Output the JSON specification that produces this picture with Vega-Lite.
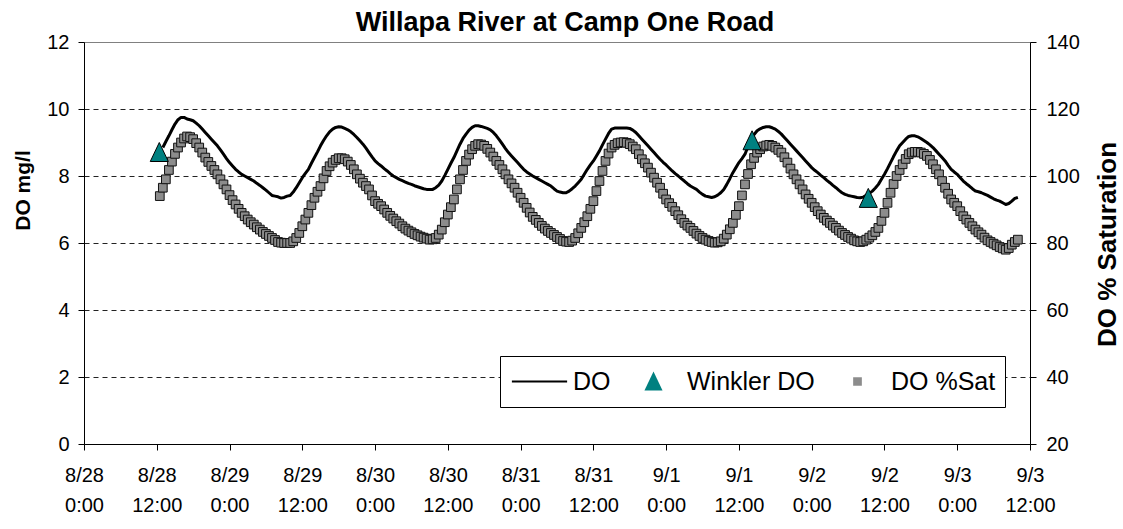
{
  "$schema": "https://vega.github.io/schema/vega-lite/v6.json",
  "width": 946,
  "height": 402,
  "autosize": {"type": "none"},
  "padding": {"left": 84, "top": 42, "right": 93, "bottom": 85},
  "background": "white",
  "title": {"text": "Willapa River at Camp One Road", "font": "Liberation Sans", "fontSize": 27, "fontWeight": "bold", "color": "black", "anchor": "middle", "dx": 8, "dy": 26, "offset": 0, "baseline": "alphabetic"},
  "datasets": {
    "series": [
      {"t": "2007-08-28T12:30", "sat": 94},
      {"t": "2007-08-28T13:00", "oxy": 8.85, "sat": 96.5},
      {"t": "2007-08-28T13:30", "oxy": 9.03, "sat": 99},
      {"t": "2007-08-28T14:00", "oxy": 9.2, "sat": 101.8},
      {"t": "2007-08-28T14:30", "oxy": 9.38, "sat": 104.3},
      {"t": "2007-08-28T15:00", "oxy": 9.55, "sat": 106.6},
      {"t": "2007-08-28T15:30", "oxy": 9.68, "sat": 108.5},
      {"t": "2007-08-28T16:00", "oxy": 9.75, "sat": 110},
      {"t": "2007-08-28T16:30", "oxy": 9.75, "sat": 111.2},
      {"t": "2007-08-28T17:00", "oxy": 9.7, "sat": 111.8},
      {"t": "2007-08-28T17:30", "oxy": 9.68, "sat": 111.6},
      {"t": "2007-08-28T18:00", "oxy": 9.65, "sat": 111},
      {"t": "2007-08-28T18:30", "oxy": 9.58, "sat": 109.8},
      {"t": "2007-08-28T19:00", "oxy": 9.5, "sat": 108.5},
      {"t": "2007-08-28T19:30", "oxy": 9.4, "sat": 107},
      {"t": "2007-08-28T20:00", "oxy": 9.3, "sat": 105.5},
      {"t": "2007-08-28T20:30", "oxy": 9.2, "sat": 104.2},
      {"t": "2007-08-28T21:00", "oxy": 9.1, "sat": 103},
      {"t": "2007-08-28T21:30", "oxy": 9.0, "sat": 101.8},
      {"t": "2007-08-28T22:00", "oxy": 8.9, "sat": 100.5},
      {"t": "2007-08-28T22:30", "oxy": 8.78, "sat": 99},
      {"t": "2007-08-28T23:00", "oxy": 8.65, "sat": 97.5},
      {"t": "2007-08-28T23:30", "oxy": 8.52, "sat": 96},
      {"t": "2007-08-29T00:00", "oxy": 8.4, "sat": 94.3},
      {"t": "2007-08-29T00:30", "oxy": 8.3, "sat": 92.8},
      {"t": "2007-08-29T01:00", "oxy": 8.2, "sat": 91.5},
      {"t": "2007-08-29T01:30", "oxy": 8.12, "sat": 90.2},
      {"t": "2007-08-29T02:00", "oxy": 8.05, "sat": 89},
      {"t": "2007-08-29T02:30", "oxy": 8.0, "sat": 88},
      {"t": "2007-08-29T03:00", "oxy": 7.95, "sat": 87},
      {"t": "2007-08-29T03:30", "oxy": 7.9, "sat": 86.2},
      {"t": "2007-08-29T04:00", "oxy": 7.85, "sat": 85.5},
      {"t": "2007-08-29T04:30", "oxy": 7.78, "sat": 84.7},
      {"t": "2007-08-29T05:00", "oxy": 7.72, "sat": 84},
      {"t": "2007-08-29T05:30", "oxy": 7.65, "sat": 83.3},
      {"t": "2007-08-29T06:00", "oxy": 7.58, "sat": 82.7},
      {"t": "2007-08-29T06:30", "oxy": 7.5, "sat": 82.1},
      {"t": "2007-08-29T07:00", "oxy": 7.42, "sat": 81.5},
      {"t": "2007-08-29T07:30", "oxy": 7.4, "sat": 80.9},
      {"t": "2007-08-29T08:00", "oxy": 7.38, "sat": 80.3},
      {"t": "2007-08-29T08:30", "oxy": 7.34, "sat": 80.1},
      {"t": "2007-08-29T09:00", "oxy": 7.36, "sat": 80},
      {"t": "2007-08-29T09:30", "oxy": 7.4, "sat": 80},
      {"t": "2007-08-29T10:00", "oxy": 7.42, "sat": 80},
      {"t": "2007-08-29T10:30", "oxy": 7.52, "sat": 80.5},
      {"t": "2007-08-29T11:00", "oxy": 7.65, "sat": 81.5},
      {"t": "2007-08-29T11:30", "oxy": 7.8, "sat": 83},
      {"t": "2007-08-29T12:00", "oxy": 7.95, "sat": 85},
      {"t": "2007-08-29T12:30", "oxy": 8.08, "sat": 87},
      {"t": "2007-08-29T13:00", "oxy": 8.2, "sat": 89},
      {"t": "2007-08-29T13:30", "oxy": 8.38, "sat": 91.3},
      {"t": "2007-08-29T14:00", "oxy": 8.55, "sat": 93.5},
      {"t": "2007-08-29T14:30", "oxy": 8.72, "sat": 95.3},
      {"t": "2007-08-29T15:00", "oxy": 8.9, "sat": 97},
      {"t": "2007-08-29T15:30", "oxy": 9.06, "sat": 99.3},
      {"t": "2007-08-29T16:00", "oxy": 9.2, "sat": 101.5},
      {"t": "2007-08-29T16:30", "oxy": 9.32, "sat": 102.9},
      {"t": "2007-08-29T17:00", "oxy": 9.4, "sat": 104},
      {"t": "2007-08-29T17:30", "oxy": 9.45, "sat": 104.8},
      {"t": "2007-08-29T18:00", "oxy": 9.47, "sat": 105.3},
      {"t": "2007-08-29T18:30", "oxy": 9.46, "sat": 105.3},
      {"t": "2007-08-29T19:00", "oxy": 9.42, "sat": 105},
      {"t": "2007-08-29T19:30", "oxy": 9.38, "sat": 104.3},
      {"t": "2007-08-29T20:00", "oxy": 9.32, "sat": 103.3},
      {"t": "2007-08-29T20:30", "oxy": 9.24, "sat": 102},
      {"t": "2007-08-29T21:00", "oxy": 9.15, "sat": 100.5},
      {"t": "2007-08-29T21:30", "oxy": 9.05, "sat": 99.2},
      {"t": "2007-08-29T22:00", "oxy": 8.95, "sat": 98},
      {"t": "2007-08-29T22:30", "oxy": 8.83, "sat": 97},
      {"t": "2007-08-29T23:00", "oxy": 8.7, "sat": 96},
      {"t": "2007-08-29T23:30", "oxy": 8.57, "sat": 94.2},
      {"t": "2007-08-30T00:00", "oxy": 8.45, "sat": 92.5},
      {"t": "2007-08-30T00:30", "oxy": 8.37, "sat": 91.7},
      {"t": "2007-08-30T01:00", "oxy": 8.3, "sat": 91},
      {"t": "2007-08-30T01:30", "oxy": 8.22, "sat": 90},
      {"t": "2007-08-30T02:00", "oxy": 8.15, "sat": 89},
      {"t": "2007-08-30T02:30", "oxy": 8.07, "sat": 88.1},
      {"t": "2007-08-30T03:00", "oxy": 8.0, "sat": 87.3},
      {"t": "2007-08-30T03:30", "oxy": 7.95, "sat": 86.5},
      {"t": "2007-08-30T04:00", "oxy": 7.9, "sat": 85.8},
      {"t": "2007-08-30T04:30", "oxy": 7.86, "sat": 85},
      {"t": "2007-08-30T05:00", "oxy": 7.82, "sat": 84.3},
      {"t": "2007-08-30T05:30", "oxy": 7.78, "sat": 83.7},
      {"t": "2007-08-30T06:00", "oxy": 7.75, "sat": 83.2},
      {"t": "2007-08-30T06:30", "oxy": 7.71, "sat": 82.7},
      {"t": "2007-08-30T07:00", "oxy": 7.68, "sat": 82.3},
      {"t": "2007-08-30T07:30", "oxy": 7.65, "sat": 81.9},
      {"t": "2007-08-30T08:00", "oxy": 7.62, "sat": 81.6},
      {"t": "2007-08-30T08:30", "oxy": 7.6, "sat": 81.3},
      {"t": "2007-08-30T09:00", "oxy": 7.6, "sat": 81},
      {"t": "2007-08-30T09:30", "oxy": 7.6, "sat": 81.1},
      {"t": "2007-08-30T10:00", "oxy": 7.65, "sat": 81.5},
      {"t": "2007-08-30T10:30", "oxy": 7.73, "sat": 82.5},
      {"t": "2007-08-30T11:00", "oxy": 7.85, "sat": 84},
      {"t": "2007-08-30T11:30", "oxy": 8.02, "sat": 86.2},
      {"t": "2007-08-30T12:00", "oxy": 8.2, "sat": 88.5},
      {"t": "2007-08-30T12:30", "oxy": 8.38, "sat": 90.7},
      {"t": "2007-08-30T13:00", "oxy": 8.55, "sat": 93},
      {"t": "2007-08-30T13:30", "oxy": 8.75, "sat": 96},
      {"t": "2007-08-30T14:00", "oxy": 8.95, "sat": 99},
      {"t": "2007-08-30T14:30", "oxy": 9.12, "sat": 101.8},
      {"t": "2007-08-30T15:00", "oxy": 9.25, "sat": 104.5},
      {"t": "2007-08-30T15:30", "oxy": 9.37, "sat": 106.4},
      {"t": "2007-08-30T16:00", "oxy": 9.45, "sat": 108},
      {"t": "2007-08-30T16:30", "oxy": 9.5, "sat": 109},
      {"t": "2007-08-30T17:00", "oxy": 9.5, "sat": 109.5},
      {"t": "2007-08-30T17:30", "oxy": 9.48, "sat": 109.4},
      {"t": "2007-08-30T18:00", "oxy": 9.45, "sat": 109},
      {"t": "2007-08-30T18:30", "oxy": 9.42, "sat": 108.1},
      {"t": "2007-08-30T19:00", "oxy": 9.38, "sat": 107},
      {"t": "2007-08-30T19:30", "oxy": 9.3, "sat": 105.8},
      {"t": "2007-08-30T20:00", "oxy": 9.2, "sat": 104.5},
      {"t": "2007-08-30T20:30", "oxy": 9.08, "sat": 103.3},
      {"t": "2007-08-30T21:00", "oxy": 8.95, "sat": 102},
      {"t": "2007-08-30T21:30", "oxy": 8.82, "sat": 100.5},
      {"t": "2007-08-30T22:00", "oxy": 8.7, "sat": 99},
      {"t": "2007-08-30T22:30", "oxy": 8.6, "sat": 97.8},
      {"t": "2007-08-30T23:00", "oxy": 8.5, "sat": 96.5},
      {"t": "2007-08-30T23:30", "oxy": 8.4, "sat": 95},
      {"t": "2007-08-31T00:00", "oxy": 8.3, "sat": 93.5},
      {"t": "2007-08-31T00:30", "oxy": 8.2, "sat": 92},
      {"t": "2007-08-31T01:00", "oxy": 8.12, "sat": 90.5},
      {"t": "2007-08-31T01:30", "oxy": 8.06, "sat": 89.1},
      {"t": "2007-08-31T02:00", "oxy": 8.0, "sat": 87.8},
      {"t": "2007-08-31T02:30", "oxy": 7.95, "sat": 86.9},
      {"t": "2007-08-31T03:00", "oxy": 7.9, "sat": 86},
      {"t": "2007-08-31T03:30", "oxy": 7.85, "sat": 85.1},
      {"t": "2007-08-31T04:00", "oxy": 7.8, "sat": 84.3},
      {"t": "2007-08-31T04:30", "oxy": 7.75, "sat": 83.6},
      {"t": "2007-08-31T05:00", "oxy": 7.7, "sat": 83},
      {"t": "2007-08-31T05:30", "oxy": 7.62, "sat": 82.4},
      {"t": "2007-08-31T06:00", "oxy": 7.55, "sat": 81.8},
      {"t": "2007-08-31T06:30", "oxy": 7.52, "sat": 81.2},
      {"t": "2007-08-31T07:00", "oxy": 7.5, "sat": 80.6},
      {"t": "2007-08-31T07:30", "oxy": 7.5, "sat": 80.4},
      {"t": "2007-08-31T08:00", "oxy": 7.55, "sat": 80.3},
      {"t": "2007-08-31T08:30", "oxy": 7.62, "sat": 80.7},
      {"t": "2007-08-31T09:00", "oxy": 7.7, "sat": 81.5},
      {"t": "2007-08-31T09:30", "oxy": 7.8, "sat": 82.9},
      {"t": "2007-08-31T10:00", "oxy": 7.9, "sat": 84.5},
      {"t": "2007-08-31T10:30", "oxy": 8.05, "sat": 86.2},
      {"t": "2007-08-31T11:00", "oxy": 8.2, "sat": 88},
      {"t": "2007-08-31T11:30", "oxy": 8.33, "sat": 90.2},
      {"t": "2007-08-31T12:00", "oxy": 8.45, "sat": 92.5},
      {"t": "2007-08-31T12:30", "oxy": 8.6, "sat": 95.5},
      {"t": "2007-08-31T13:00", "oxy": 8.75, "sat": 98.5},
      {"t": "2007-08-31T13:30", "oxy": 8.93, "sat": 101.5},
      {"t": "2007-08-31T14:00", "oxy": 9.1, "sat": 104.5},
      {"t": "2007-08-31T14:30", "oxy": 9.27, "sat": 106.7},
      {"t": "2007-08-31T15:00", "oxy": 9.4, "sat": 108.5},
      {"t": "2007-08-31T15:30", "oxy": 9.43, "sat": 109.3},
      {"t": "2007-08-31T16:00", "oxy": 9.43, "sat": 109.8},
      {"t": "2007-08-31T16:30", "oxy": 9.43, "sat": 110},
      {"t": "2007-08-31T17:00", "oxy": 9.43, "sat": 110.1},
      {"t": "2007-08-31T17:30", "oxy": 9.43, "sat": 109.9},
      {"t": "2007-08-31T18:00", "oxy": 9.42, "sat": 109.5},
      {"t": "2007-08-31T18:30", "oxy": 9.37, "sat": 108.8},
      {"t": "2007-08-31T19:00", "oxy": 9.3, "sat": 108},
      {"t": "2007-08-31T19:30", "oxy": 9.2, "sat": 106.5},
      {"t": "2007-08-31T20:00", "oxy": 9.1, "sat": 105},
      {"t": "2007-08-31T20:30", "oxy": 9.0, "sat": 103.8},
      {"t": "2007-08-31T21:00", "oxy": 8.9, "sat": 102.5},
      {"t": "2007-08-31T21:30", "oxy": 8.8, "sat": 101},
      {"t": "2007-08-31T22:00", "oxy": 8.7, "sat": 99.5},
      {"t": "2007-08-31T22:30", "oxy": 8.6, "sat": 98},
      {"t": "2007-08-31T23:00", "oxy": 8.5, "sat": 96.5},
      {"t": "2007-08-31T23:30", "oxy": 8.41, "sat": 94.7},
      {"t": "2007-09-01T00:00", "oxy": 8.33, "sat": 93},
      {"t": "2007-09-01T00:30", "oxy": 8.24, "sat": 91.9},
      {"t": "2007-09-01T01:00", "oxy": 8.15, "sat": 90.8},
      {"t": "2007-09-01T01:30", "oxy": 8.07, "sat": 89.5},
      {"t": "2007-09-01T02:00", "oxy": 8.0, "sat": 88.3},
      {"t": "2007-09-01T02:30", "oxy": 7.92, "sat": 87.1},
      {"t": "2007-09-01T03:00", "oxy": 7.85, "sat": 86},
      {"t": "2007-09-01T03:30", "oxy": 7.77, "sat": 85.2},
      {"t": "2007-09-01T04:00", "oxy": 7.7, "sat": 84.5},
      {"t": "2007-09-01T04:30", "oxy": 7.65, "sat": 83.6},
      {"t": "2007-09-01T05:00", "oxy": 7.6, "sat": 82.8},
      {"t": "2007-09-01T05:30", "oxy": 7.52, "sat": 82.1},
      {"t": "2007-09-01T06:00", "oxy": 7.45, "sat": 81.5},
      {"t": "2007-09-01T06:30", "oxy": 7.4, "sat": 81},
      {"t": "2007-09-01T07:00", "oxy": 7.38, "sat": 80.6},
      {"t": "2007-09-01T07:30", "oxy": 7.36, "sat": 80.3},
      {"t": "2007-09-01T08:00", "oxy": 7.38, "sat": 80.1},
      {"t": "2007-09-01T08:30", "oxy": 7.43, "sat": 80.2},
      {"t": "2007-09-01T09:00", "oxy": 7.5, "sat": 80.5},
      {"t": "2007-09-01T09:30", "oxy": 7.6, "sat": 81.3},
      {"t": "2007-09-01T10:00", "oxy": 7.75, "sat": 82.5},
      {"t": "2007-09-01T10:30", "oxy": 7.92, "sat": 84.1},
      {"t": "2007-09-01T11:00", "oxy": 8.1, "sat": 86},
      {"t": "2007-09-01T11:30", "oxy": 8.25, "sat": 88.4},
      {"t": "2007-09-01T12:00", "oxy": 8.4, "sat": 91},
      {"t": "2007-09-01T12:30", "oxy": 8.52, "sat": 94.2},
      {"t": "2007-09-01T13:00", "oxy": 8.65, "sat": 97.5},
      {"t": "2007-09-01T13:30", "oxy": 8.88, "sat": 100.6},
      {"t": "2007-09-01T14:00", "oxy": 9.1, "sat": 103.5},
      {"t": "2007-09-01T14:30", "oxy": 9.24, "sat": 105.4},
      {"t": "2007-09-01T15:00", "oxy": 9.35, "sat": 107},
      {"t": "2007-09-01T15:30", "oxy": 9.41, "sat": 108},
      {"t": "2007-09-01T16:00", "oxy": 9.45, "sat": 108.8},
      {"t": "2007-09-01T16:30", "oxy": 9.47, "sat": 109.1},
      {"t": "2007-09-01T17:00", "oxy": 9.47, "sat": 109.3},
      {"t": "2007-09-01T17:30", "oxy": 9.44, "sat": 109},
      {"t": "2007-09-01T18:00", "oxy": 9.4, "sat": 108.5},
      {"t": "2007-09-01T18:30", "oxy": 9.33, "sat": 107.8},
      {"t": "2007-09-01T19:00", "oxy": 9.25, "sat": 107},
      {"t": "2007-09-01T19:30", "oxy": 9.15, "sat": 105.6},
      {"t": "2007-09-01T20:00", "oxy": 9.05, "sat": 104},
      {"t": "2007-09-01T20:30", "oxy": 8.95, "sat": 102.2},
      {"t": "2007-09-01T21:00", "oxy": 8.85, "sat": 100.5},
      {"t": "2007-09-01T21:30", "oxy": 8.75, "sat": 99},
      {"t": "2007-09-01T22:00", "oxy": 8.65, "sat": 97.5},
      {"t": "2007-09-01T22:30", "oxy": 8.55, "sat": 96},
      {"t": "2007-09-01T23:00", "oxy": 8.45, "sat": 94.5},
      {"t": "2007-09-01T23:30", "oxy": 8.35, "sat": 93.2},
      {"t": "2007-09-02T00:00", "oxy": 8.25, "sat": 92},
      {"t": "2007-09-02T00:30", "oxy": 8.17, "sat": 90.7},
      {"t": "2007-09-02T01:00", "oxy": 8.1, "sat": 89.5},
      {"t": "2007-09-02T01:30", "oxy": 8.02, "sat": 88.5},
      {"t": "2007-09-02T02:00", "oxy": 7.95, "sat": 87.5},
      {"t": "2007-09-02T02:30", "oxy": 7.87, "sat": 86.7},
      {"t": "2007-09-02T03:00", "oxy": 7.8, "sat": 86},
      {"t": "2007-09-02T03:30", "oxy": 7.72, "sat": 85.2},
      {"t": "2007-09-02T04:00", "oxy": 7.65, "sat": 84.5},
      {"t": "2007-09-02T04:30", "oxy": 7.57, "sat": 83.7},
      {"t": "2007-09-02T05:00", "oxy": 7.5, "sat": 83},
      {"t": "2007-09-02T05:30", "oxy": 7.45, "sat": 82.4},
      {"t": "2007-09-02T06:00", "oxy": 7.42, "sat": 81.8},
      {"t": "2007-09-02T06:30", "oxy": 7.4, "sat": 81.3},
      {"t": "2007-09-02T07:00", "oxy": 7.38, "sat": 80.8},
      {"t": "2007-09-02T07:30", "oxy": 7.36, "sat": 80.5},
      {"t": "2007-09-02T08:00", "oxy": 7.35, "sat": 80.3},
      {"t": "2007-09-02T08:30", "oxy": 7.37, "sat": 80.5},
      {"t": "2007-09-02T09:00", "oxy": 7.42, "sat": 81},
      {"t": "2007-09-02T09:30", "oxy": 7.48, "sat": 81.6},
      {"t": "2007-09-02T10:00", "oxy": 7.55, "sat": 82.3},
      {"t": "2007-09-02T10:30", "oxy": 7.64, "sat": 83.3},
      {"t": "2007-09-02T11:00", "oxy": 7.75, "sat": 84.5},
      {"t": "2007-09-02T11:30", "oxy": 7.9, "sat": 86.6},
      {"t": "2007-09-02T12:00", "oxy": 8.05, "sat": 89},
      {"t": "2007-09-02T12:30", "oxy": 8.22, "sat": 92},
      {"t": "2007-09-02T13:00", "oxy": 8.4, "sat": 95},
      {"t": "2007-09-02T13:30", "oxy": 8.58, "sat": 97.6},
      {"t": "2007-09-02T14:00", "oxy": 8.75, "sat": 100},
      {"t": "2007-09-02T14:30", "oxy": 8.9, "sat": 101.8},
      {"t": "2007-09-02T15:00", "oxy": 9.0, "sat": 103.5},
      {"t": "2007-09-02T15:30", "oxy": 9.1, "sat": 105.1},
      {"t": "2007-09-02T16:00", "oxy": 9.18, "sat": 106.5},
      {"t": "2007-09-02T16:30", "oxy": 9.2, "sat": 107},
      {"t": "2007-09-02T17:00", "oxy": 9.2, "sat": 107.2},
      {"t": "2007-09-02T17:30", "oxy": 9.17, "sat": 107.2},
      {"t": "2007-09-02T18:00", "oxy": 9.12, "sat": 107},
      {"t": "2007-09-02T18:30", "oxy": 9.06, "sat": 106.6},
      {"t": "2007-09-02T19:00", "oxy": 9.0, "sat": 106},
      {"t": "2007-09-02T19:30", "oxy": 8.93, "sat": 104.8},
      {"t": "2007-09-02T20:00", "oxy": 8.85, "sat": 103.5},
      {"t": "2007-09-02T20:30", "oxy": 8.75, "sat": 102},
      {"t": "2007-09-02T21:00", "oxy": 8.65, "sat": 100.5},
      {"t": "2007-09-02T21:30", "oxy": 8.55, "sat": 98.5},
      {"t": "2007-09-02T22:00", "oxy": 8.45, "sat": 96.5},
      {"t": "2007-09-02T22:30", "oxy": 8.32, "sat": 94.7},
      {"t": "2007-09-02T23:00", "oxy": 8.2, "sat": 93},
      {"t": "2007-09-02T23:30", "oxy": 8.12, "sat": 92},
      {"t": "2007-09-03T00:00", "oxy": 8.05, "sat": 91},
      {"t": "2007-09-03T00:30", "oxy": 7.95, "sat": 89.5},
      {"t": "2007-09-03T01:00", "oxy": 7.85, "sat": 88},
      {"t": "2007-09-03T01:30", "oxy": 7.77, "sat": 87},
      {"t": "2007-09-03T02:00", "oxy": 7.7, "sat": 86},
      {"t": "2007-09-03T02:30", "oxy": 7.62, "sat": 85},
      {"t": "2007-09-03T03:00", "oxy": 7.55, "sat": 84},
      {"t": "2007-09-03T03:30", "oxy": 7.53, "sat": 83.2},
      {"t": "2007-09-03T04:00", "oxy": 7.5, "sat": 82.5},
      {"t": "2007-09-03T04:30", "oxy": 7.46, "sat": 81.6},
      {"t": "2007-09-03T05:00", "oxy": 7.42, "sat": 80.8},
      {"t": "2007-09-03T05:30", "oxy": 7.37, "sat": 80.3},
      {"t": "2007-09-03T06:00", "oxy": 7.32, "sat": 79.8},
      {"t": "2007-09-03T06:30", "oxy": 7.28, "sat": 79.3},
      {"t": "2007-09-03T07:00", "oxy": 7.25, "sat": 78.8},
      {"t": "2007-09-03T07:30", "oxy": 7.2, "sat": 78.4},
      {"t": "2007-09-03T08:00", "oxy": 7.15, "sat": 78},
      {"t": "2007-09-03T08:30", "oxy": 7.18, "sat": 78.5},
      {"t": "2007-09-03T09:00", "oxy": 7.25, "sat": 79.5},
      {"t": "2007-09-03T09:30", "oxy": 7.33, "sat": 80.3},
      {"t": "2007-09-03T10:00", "oxy": 7.36, "sat": 81}
    ],
    "winkler": [
      {"t": "2007-08-28T12:25", "oxy": 8.7},
      {"t": "2007-09-01T14:10", "oxy": 9.05},
      {"t": "2007-09-02T09:20", "oxy": 7.33}
    ]
  },
  "encoding": {
    "x": {
      "field": "t",
      "type": "temporal",
      "title": null,
      "scale": {"domain": [{"year": 2007, "month": 8, "date": 28, "hours": 0}, {"year": 2007, "month": 9, "date": 3, "hours": 12}]},
      "axis": {
        "values": [
          {"year": 2007, "month": 8, "date": 28, "hours": 0},
          {"year": 2007, "month": 8, "date": 28, "hours": 12},
          {"year": 2007, "month": 8, "date": 29, "hours": 0},
          {"year": 2007, "month": 8, "date": 29, "hours": 12},
          {"year": 2007, "month": 8, "date": 30, "hours": 0},
          {"year": 2007, "month": 8, "date": 30, "hours": 12},
          {"year": 2007, "month": 8, "date": 31, "hours": 0},
          {"year": 2007, "month": 8, "date": 31, "hours": 12},
          {"year": 2007, "month": 9, "date": 1, "hours": 0},
          {"year": 2007, "month": 9, "date": 1, "hours": 12},
          {"year": 2007, "month": 9, "date": 2, "hours": 0},
          {"year": 2007, "month": 9, "date": 2, "hours": 12},
          {"year": 2007, "month": 9, "date": 3, "hours": 0},
          {"year": 2007, "month": 9, "date": 3, "hours": 12}
        ],
        "labelExpr": "[timeFormat(datum.value, '%-m/%-d'), timeFormat(datum.value, '%-H:%M')]",
        "labelPadding": 15,
        "labelLineHeight": 30,
        "labelFlush": false,
        "labelOverlap": false,
        "grid": false
      }
    }
  },
  "layer": [
    {
      "data": {"name": "series"},
      "mark": {"type": "point", "filled": true, "stroke": "#111111", "strokeWidth": 1, "size": 280, "opacity": 1},
      "encoding": {
        "y": {
          "field": "sat",
          "type": "quantitative",
          "title": "DO % Saturation",
          "scale": {"domain": [20, 140], "nice": false, "zero": false},
          "axis": {"orient": "right", "values": [20, 40, 60, 80, 100, 120, 140], "grid": false, "labelPadding": 10, "titleFontSize": 26, "titleFontWeight": "bold", "titleAngle": -90, "titleX": 77, "titleY": 202, "titleAlign": "center", "titleBaseline": "middle"}
        },
        "shape": {
          "datum": "DO %Sat",
          "scale": {"domain": ["DO", "Winkler DO", "DO %Sat"], "range": ["M-3.3,-0.12H3.3V0.12H-3.3Z", "M0,-1.2L1.08,1.07L-1.08,1.07Z", "M-0.52,-0.52H0.52V0.52H-0.52Z"]},
          "legend": {
            "title": null, "orient": "none", "legendX": 416, "legendY": 314, "direction": "horizontal",
            "strokeColor": "black", "fillColor": "white", "padding": 9,
            "labelFont": "Liberation Sans", "labelFontSize": 25, "labelColor": "black",
            "labelOffset": 21, "symbolOffset": 18, "columnPadding": 12, "symbolSize": 280, "clipHeight": 33,
            "symbolStrokeColor": "black", "symbolStrokeWidth": 1
          }
        },
        "fill": {
          "datum": "DO %Sat",
          "scale": {"domain": ["DO", "Winkler DO", "DO %Sat"], "range": ["black", "#008080", "#8c8c8c"]},
          "legend": {
            "title": null, "orient": "none", "legendX": 416, "legendY": 314, "direction": "horizontal",
            "strokeColor": "black", "fillColor": "white", "padding": 9,
            "labelFont": "Liberation Sans", "labelFontSize": 25, "labelColor": "black",
            "labelOffset": 21, "symbolOffset": 18, "columnPadding": 12, "symbolSize": 280, "clipHeight": 33,
            "symbolStrokeColor": "black", "symbolStrokeWidth": 1
          }
        }
      }
    },
    {
      "encoding": {
        "y": {
          "field": "oxy",
          "type": "quantitative",
          "title": "DO mg/l",
          "scale": {"domain": [0, 12], "nice": false, "zero": false},
          "axis": {
            "values": [0, 2, 4, 6, 8, 10, 12],
            "grid": true,
            "gridColor": "#222222",
            "gridDash": [5, 4],
            "gridOpacity": {"condition": {"test": "datum.value == 0 || datum.value == 12", "value": 0}, "value": 1},
            "labelPadding": 9,
            "titleFontSize": 21,
            "titleFontWeight": "bold",
            "titleAngle": -90,
            "titleX": -61,
            "titleY": 148,
            "titleAlign": "center",
            "titleBaseline": "middle"
          }
        }
      },
      "layer": [
        {
          "data": {"name": "series"},
          "mark": {"type": "line", "color": "black", "strokeWidth": 3, "strokeJoin": "round"}
        },
        {
          "data": {"name": "winkler"},
          "mark": {"type": "point", "filled": true, "stroke": "black", "strokeWidth": 1, "size": 280, "opacity": 1},
          "encoding": {
            "shape": {"datum": "Winkler DO", "scale": {"domain": ["DO", "Winkler DO", "DO %Sat"], "range": ["M-3.3,-0.12H3.3V0.12H-3.3Z", "M0,-1.2L1.08,1.07L-1.08,1.07Z", "M-0.52,-0.52H0.52V0.52H-0.52Z"]}},
            "fill": {"datum": "Winkler DO", "scale": {"domain": ["DO", "Winkler DO", "DO %Sat"], "range": ["black", "#008080", "#8c8c8c"]}}
          }
        }
      ]
    }
  ],
  "resolve": {"scale": {"y": "independent"}},
  "config": {
    "font": "Liberation Sans",
    "view": {"stroke": "#808080", "strokeWidth": 1},
    "axis": {
      "labelFont": "Liberation Sans",
      "labelFontSize": 20,
      "labelColor": "black",
      "titleFont": "Liberation Sans",
      "titleColor": "black",
      "domainColor": "black",
      "domainWidth": 1,
      "tickColor": "black",
      "tickSize": 6,
      "labelFlush": false
    }
  }
}
